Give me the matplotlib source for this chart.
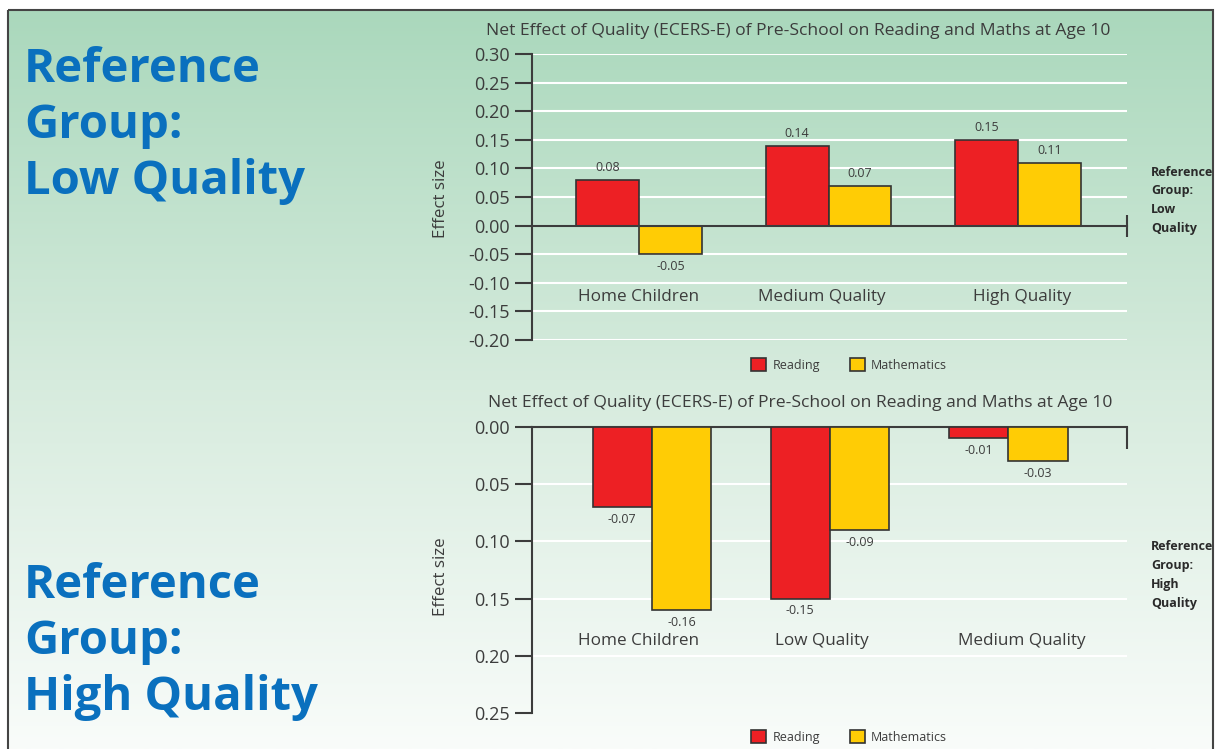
import numpy as np
import matplotlib
matplotlib.use("Agg")
import matplotlib.pyplot as plt
import matplotlib.transforms as mtransforms
from matplotlib.patches import Rectangle, Patch
from matplotlib.colors import LinearSegmentedColormap
from matplotlib.ticker import FuncFormatter

plt.rcParams['font.family'] = ['Open Sans', 'DejaVu Sans']
plt.rcParams['axes.unicode_minus'] = False

# data
titel = "Net Effect of Quality (ECERS-E) of Pre-School on Reading and Maths at Age 10"
kat_low = ["Home Children", "Medium Quality", "High Quality"]
reading_low = [0.08, 0.14, 0.15]
maths_low = [-0.05, 0.07, 0.11]

kat_high = ["Home Children", "Low Quality", "Medium Quality"]
reading_high = [-0.07, -0.15, -0.01]
maths_high = [-0.16, -0.09, -0.03]

merah = "#ED2024"
kuning = "#FFCC05"
teks = "#3c3c3c"
biru = "#0A70BE"

# posisi label kategori (fraksi lebar axes), sama di kedua panel
posisi_label = [0.179, 0.487, 0.823]

fig = plt.figure(figsize=(12.17, 7.49), dpi=100)

# background dengan gradien hijau -> putih
bg = fig.add_axes([0, 0, 1, 1], zorder=-10)
bg.axis('off')
cmap = LinearSegmentedColormap.from_list("bg", ["#aad8bc", "#d6ebdd", "#f9fcfa"])
grad = np.linspace(0, 1, 256).reshape(-1, 1)
bg.imshow(grad, cmap=cmap, aspect='auto', extent=(8, 1213, 749, 10))
bg.add_patch(Rectangle((8, 10), 1205, 760, fill=False, edgecolor="#444444", lw=1.5))
bg.set_xlim(0, 1217)
bg.set_ylim(749, 0)

# teks besar di kiri
for i, baris in enumerate(["Reference", "Group:", "Low Quality"]):
    bg.text(24, 82 + i * 56, baris, fontsize=34, fontweight='bold', color=biru, va='baseline')
for i, baris in enumerate(["Reference", "Group:", "High Quality"]):
    bg.text(24, 598 + i * 56, baris, fontsize=34, fontweight='bold', color=biru, va='baseline')

# teks kecil di kanan
for i, baris in enumerate(["Reference", "Group:", "Low", "Quality"]):
    bg.text(1151, 172 + i * 18.7, baris, fontsize=9, fontweight='bold', color="#2a2a2a", va='center')
for i, baris in enumerate(["Reference", "Group:", "High", "Quality"]):
    bg.text(1151, 547 + i * 18.7, baris, fontsize=9, fontweight='bold', color="#2a2a2a", va='center')

bg.text(798, 31, titel, fontsize=12.6, color=teks, ha='center', va='center')
bg.text(800, 403, titel, fontsize=12.6, color=teks, ha='center', va='center')
bg.text(441, 199, "Effect size", fontsize=12.2, color=teks, rotation=90, ha='center', va='center')
bg.text(441, 577, "Effect size", fontsize=12.2, color=teks, rotation=90, ha='center', va='center')


def gaya_axis(ax):
    ax.set_facecolor('none')
    for s in ['right', 'top', 'bottom']:
        ax.spines[s].set_visible(False)
    ax.spines['left'].set_color(teks)
    ax.spines['left'].set_linewidth(1.5)
    ax.tick_params(axis='y', direction='out', length=12, width=1.5, color=teks,
                   labelsize=13, labelcolor=teks, pad=4)
    ax.yaxis.grid(True, color='white', lw=1.5, zorder=0)
    ax.set_axisbelow(True)


def gambar_bar(ax, kategori, reading, maths, w, label_y):
    x = np.arange(len(kategori))
    b1 = ax.bar(x - w / 2, reading, w, color=merah, edgecolor="#333333", lw=1.2, zorder=3)
    b2 = ax.bar(x + w / 2, maths, w, color=kuning, edgecolor="#333333", lw=1.2, zorder=3)
    ax.bar_label(b1, fmt='%.2f', padding=4, fontsize=9, color=teks)
    ax.bar_label(b2, fmt='%.2f', padding=4, fontsize=9, color=teks)
    trans = mtransforms.blended_transform_factory(ax.transAxes, ax.transData)
    for px, k in zip(posisi_label, kategori):
        ax.text(px, label_y, k, transform=trans, ha='center', va='center',
                fontsize=12.3, color=teks)


# panel atas
ax1 = fig.add_axes([532 / 1217, 1 - 340 / 749, 595 / 1217, 286 / 749])
gaya_axis(ax1)
gambar_bar(ax1, kat_low, reading_low, maths_low, 0.332, -0.125)
ax1.set_xlim(-0.565, 2.575)
ax1.set_ylim(-0.20, 0.30)
ax1.set_yticks(np.arange(-0.20, 0.301, 0.05))
ax1.yaxis.set_major_formatter(FuncFormatter(lambda v, p: "%.2f" % (0 if abs(v) < 1e-9 else v)))
ax1.spines['bottom'].set_visible(True)
ax1.spines['bottom'].set_position(('data', 0))
ax1.spines['bottom'].set_color(teks)
ax1.spines['bottom'].set_linewidth(1.5)
ax1.spines['bottom'].set_zorder(4)
ax1.set_xticks([2.575], [""])
ax1.tick_params(axis='x', direction='inout', length=16, width=1.5, color=teks)

# panel bawah (sumbu dibalik: angka positif ke bawah)
ax2 = fig.add_axes([532 / 1217, 1 - 713 / 749, 595 / 1217, 286 / 749])
gaya_axis(ax2)
gambar_bar(ax2, kat_high, reading_high, maths_high, 0.334, -0.187)
ax2.set_xlim(-0.674, 2.668)
ax2.set_ylim(-0.25, 0)
ax2.set_yticks(np.arange(-0.25, 0.001, 0.05))
ax2.yaxis.set_major_formatter(FuncFormatter(lambda v, p: "%.2f" % abs(v)))
ax2.spines['top'].set_visible(True)
ax2.spines['top'].set_color(teks)
ax2.spines['top'].set_linewidth(1.5)
ax2.xaxis.tick_top()
ax2.set_xticks([2.668], [""])
ax2.tick_params(axis='x', direction='in', length=16, width=1.5, color=teks)
ax2.get_ygridlines()[0].set_visible(False)

# legenda
handle = [Patch(facecolor=merah, edgecolor="#333333", lw=1.2, label="Reading"),
          Patch(facecolor=kuning, edgecolor="#333333", lw=1.2, label="Mathematics")]
for yy in [365, 737]:
    fig.legend(handles=handle, loc='center', bbox_to_anchor=(849 / 1217, 1 - yy / 749),
               ncol=2, frameon=False, fontsize=9, handlelength=1.2, handleheight=1.2,
               handletextpad=0.5, columnspacing=2.4, labelcolor=teks)

plt.savefig("out.png", dpi=100)
